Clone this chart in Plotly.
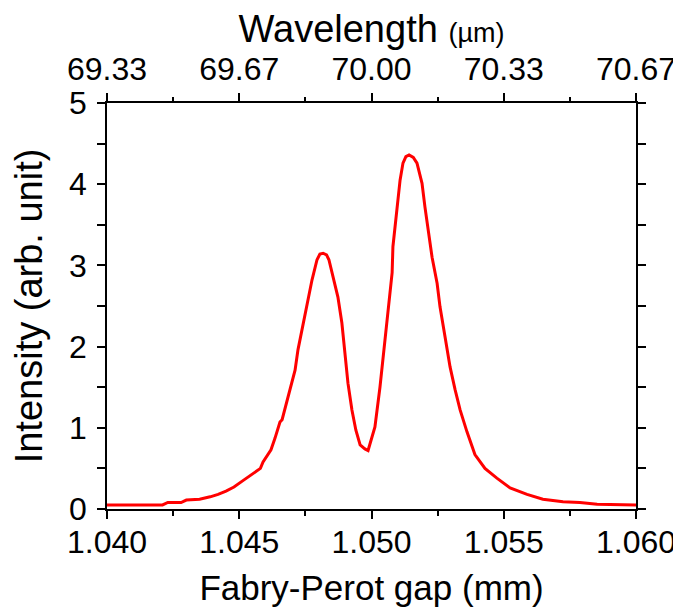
import plotly.graph_objects as go

# Fabry-Perot gap (mm)
gap = [1.0400, 1.0421, 1.0423, 1.0428, 1.0430, 1.0435, 1.0439, 1.0442, 1.0445,
       1.0448, 1.0451, 1.0455, 1.0458, 1.0459, 1.0462, 1.04635, 1.04654, 1.04662,
       1.04692, 1.04711, 1.04722, 1.04737, 1.04756, 1.04775, 1.04794, 1.04805,
       1.04817, 1.0483, 1.04839, 1.04854, 1.04873, 1.04888, 1.04900, 1.04911,
       1.04926, 1.04941, 1.04957, 1.04975, 1.04987, 1.05013, 1.05032, 1.05051,
       1.05062, 1.05078, 1.05081, 1.05096, 1.05108, 1.05119, 1.0513, 1.05142,
       1.05158, 1.05172, 1.05191, 1.05202, 1.05214, 1.05229, 1.05248, 1.05259,
       1.05278, 1.05297, 1.05316, 1.05335, 1.05361, 1.05391, 1.05429, 1.05474,
       1.05524, 1.05588, 1.05648, 1.05724, 1.05788, 1.05853, 1.0600]
# Intensity (arb. unit)
intensity = [0.05, 0.05, 0.08, 0.08, 0.11, 0.12, 0.15, 0.18, 0.22,
             0.27, 0.34, 0.43, 0.50, 0.58, 0.73, 0.87, 1.07, 1.10,
             1.47, 1.71, 1.96, 2.20, 2.49, 2.82, 3.07, 3.14,
             3.15, 3.13, 3.07, 2.86, 2.61, 2.29, 1.87, 1.55,
             1.22, 0.97, 0.79, 0.74, 0.72, 1.01, 1.50, 2.08,
             2.49, 2.91, 3.23, 3.72, 4.05, 4.26, 4.34, 4.36,
             4.33, 4.26, 4.01, 3.72, 3.44, 3.10, 2.78, 2.49,
             2.12, 1.75, 1.47, 1.22, 0.95, 0.67, 0.50, 0.38,
             0.26, 0.18, 0.12, 0.09, 0.08, 0.06, 0.05]

# bottom axis ticks
gap_ticks = [1.040, 1.045, 1.050, 1.055, 1.060]
gap_labels = ["1.040", "1.045", "1.050", "1.055", "1.060"]
# top axis: wavelength (um) = gap * 200/3
wl_factor = 200.0 / 3.0
wl_ticks = [69.333333, 69.666667, 70.0, 70.333333, 70.666667]
wl_labels = ["69.33", "69.67", "70.00", "70.33", "70.67"]
wl_minor = [69.5, 69.833333, 70.166667, 70.5]
y_ticks = [0, 1, 2, 3, 4, 5]

FONT = "Liberation Sans, Arial, sans-serif"
TICK_FS = 32

fig = go.Figure()
fig.add_trace(go.Scatter(x=gap, y=intensity, mode="lines",
                         line=dict(color="#ff0000", width=3),
                         showlegend=False))
fig.add_trace(go.Scatter(x=[g * wl_factor for g in gap], y=intensity, xaxis="x2",
                         mode="lines", line=dict(color="rgba(0,0,0,0)", width=0),
                         hoverinfo="skip", showlegend=False))

tick_style = dict(ticks="outside", tickwidth=1.5, tickcolor="black",
                  ticklabeloverflow="allow",
                  tickfont=dict(family=FONT, size=TICK_FS, color="black"))

fig.update_layout(
    width=673, height=604,
    margin=dict(l=99, r=45, t=95, b=103),
    paper_bgcolor="white", plot_bgcolor="white",
    font=dict(family=FONT, size=32, color="black"),
    xaxis=dict(
        range=[1.040, 1.060], tickvals=gap_ticks, ticktext=gap_labels,
        ticklen=8, ticklabelstandoff=-4, **tick_style,
        minor=dict(dtick=0.0025, tick0=1.040, ticks="outside", ticklen=5,
                   tickwidth=1.5, tickcolor="black", showgrid=False),
        showline=True, linecolor="black", linewidth=1.5, mirror=True,
        showgrid=False, zeroline=False, automargin=False,
        title=dict(text="Fabry-Perot gap (mm)", standoff=16,
                   font=dict(family=FONT, size=35)),
    ),
    xaxis2=dict(
        overlaying="x", side="top",
        range=[1.040 * wl_factor, 1.060 * wl_factor],
        tickvals=wl_ticks, ticktext=wl_labels,
        ticklen=9, **tick_style,
        minor=dict(tickvals=wl_minor, ticks="outside",
                   ticklen=5, tickwidth=1.5, tickcolor="black", showgrid=False),
        showline=False, showgrid=False, zeroline=False, automargin=False,
        title=dict(text="Wavelength <span style='font-size:27px'>(\u00b5m)</span>",
                   standoff=15, font=dict(family=FONT, size=38)),
    ),
    yaxis=dict(
        range=[0, 5], tickvals=y_ticks,
        ticklen=8, ticklabelstandoff=4, **tick_style,
        minor=dict(dtick=0.5, tick0=0, ticks="outside", ticklen=5,
                   tickwidth=1.5, tickcolor="black", showgrid=False),
        showline=True, linecolor="black", linewidth=1.5, mirror="allticks",
        showgrid=False, zeroline=False, automargin=False,
        title=dict(text="Intensity (arb. unit)", standoff=18,
                   font=dict(family=FONT, size=38)),
    ),
)

fig.write_html("out.html")
